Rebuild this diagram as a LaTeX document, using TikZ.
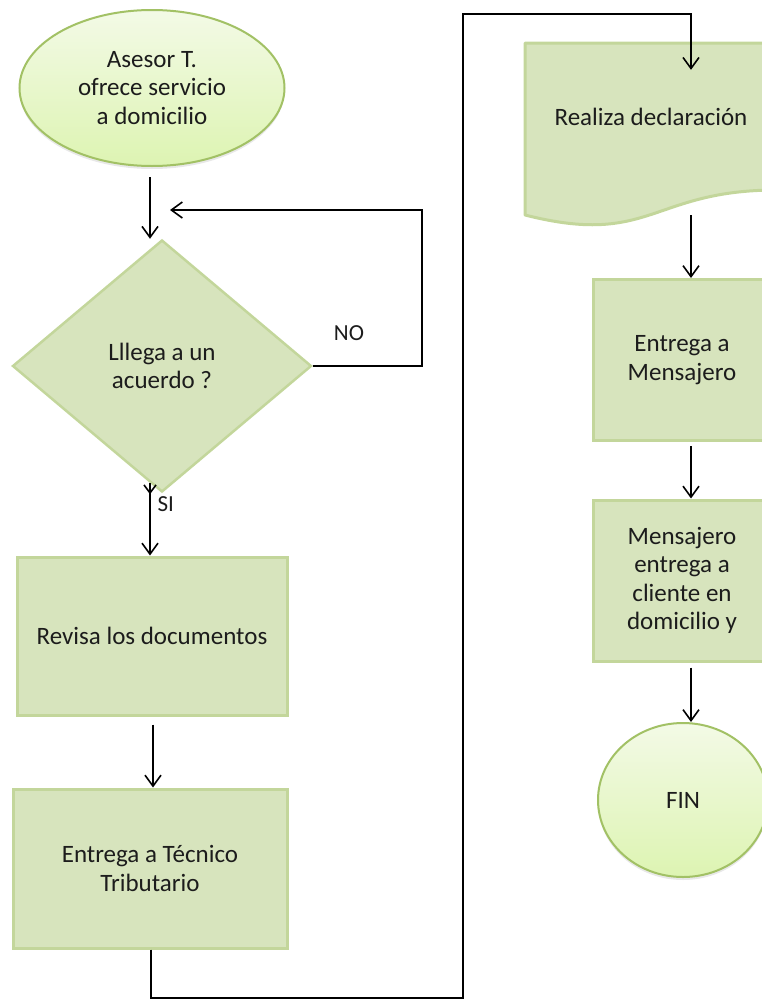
\documentclass[tikz,border=0pt]{standalone}
\usepackage{fontspec}
\setmainfont{Carlito}
\usetikzlibrary{arrows.meta,shapes.geometric,calc,shadows}
\definecolor{boxfill}{HTML}{D7E4BD}
\definecolor{boxline}{HTML}{C3D69B}
\definecolor{ovtop}{HTML}{F3FAE6}
\definecolor{ovbot}{HTML}{DDF4B2}
\definecolor{ovline}{HTML}{A2C165}
\definecolor{ink}{HTML}{1C1C1C}
\tikzset{
  txt/.style={text=ink, font=\fontsize{25}{28.5}\selectfont, align=center},
  box/.style={txt, rectangle, fill=boxfill, draw=boxline, line width=3pt, inner sep=0pt},
  oval/.style={txt, ellipse, top color=ovtop, bottom color=ovbot, draw=ovline, line width=2pt, inner sep=0pt,
    drop shadow={opacity=0.18, shadow xshift=0pt, shadow yshift=-3pt}},
  decision/.style={txt, diamond, fill=boxfill, draw=boxline, line width=2.5pt, inner sep=0pt, aspect=1.19},
  conn/.style={draw=black, line width=1.6pt},
  arr/.style={conn, -{Straight Barb[length=11pt,width=16pt,line width=1.6pt]}},
  smallarr/.style={conn, -{Straight Barb[length=8pt,width=12pt,line width=1.6pt]}},
  lbl/.style={text=ink, font=\fontsize{23}{26}\selectfont}
}
\begin{document}
\begin{tikzpicture}[x=1pt,y=-1pt]
\useasboundingbox (0,0) rectangle (762,1001);
\clip (0,0) rectangle (762,1001);

% column guides
\coordinate (cA) at (150,0);
\coordinate (cB) at (153,0);
\coordinate (cC) at (151,0);
\coordinate (cL) at (422,0);
\coordinate (xl) at (463,0);
\coordinate (cx) at (691,0);
\coordinate (yb) at (0,998);
\coordinate (yt) at (0,14);
\coordinate (loopin) at (170,210);

% left column
\node[oval, minimum width=265pt, minimum height=156pt] (start) at (152,88) {Asesor T.\\ofrece servicio\\a domicilio};
\node[decision, minimum width=299pt, minimum height=252pt] (dec) at (162,366) {Lllega a un\\acuerdo ?};
\node[box, minimum width=270pt, minimum height=158pt] (rev) at (152,636) {Revisa los documentos};
\node[box, minimum width=274pt, minimum height=159pt] (tec) at (150,868.5) {Entrega a Técnico\\Tributario};

% right column
\fill[boxfill] (525,43) -- (777,43) -- (777,190) .. controls (651,190) and (651,247) .. (525,215) -- cycle;
\draw[boxline, line width=3pt, line join=round] (525,43) -- (777,43) -- (777,190) .. controls (651,190) and (651,247) .. (525,215) -- cycle;
\node[minimum width=252pt, minimum height=184pt, inner sep=0pt] (doc) at (651,135) {};
\node[txt] (doctxt) at (651,117) {Realiza declaración};
\node[box, minimum width=178pt, minimum height=161pt] (men) at (682,360) {Entrega a\\Mensajero};
\node[box, minimum width=178pt, minimum height=161pt] (ent) at (682,580.5) {Mensajero\\entrega a\\cliente en\\domicilio y};
\node[oval, minimum width=170pt, minimum height=154pt] (fin) at (683,800) {FIN};

% labels
\node[lbl] (no) at (349,333) {NO};
\node[lbl, anchor=west] (si) at (154,504) {SI};

% connectors
\draw[arr] ([yshift=-10pt]start.south -| cA) -- (dec.north -| cA);
\draw[arr] (dec.east) -- (dec.east -| cL) -- (cL |- loopin) -- (loopin);
\draw[smallarr] ([yshift=10pt]dec.south -| cA) -- ([yshift=-1pt]dec.south -| cA);
\draw[arr] ([yshift=10pt]dec.south -| cA) -- (rev.north -| cA);
\draw[arr] ([yshift=-8pt]rev.south -| cB) -- (tec.north -| cB);
\draw[arr] (tec.south -| cC) -- (cC |- yb) -- (xl |- yb) -- (xl |- yt) -- (cx |- yt) -- ([yshift=-27pt]doc.north -| cx);
\draw[arr] ([yshift=12pt]doc.south -| cx) -- (men.north -| cx);
\draw[arr] ([yshift=-4pt]men.south -| cx) -- (ent.north -| cx);
\draw[arr] ([yshift=-5pt]ent.south -| cx) -- (fin.north -| cx);
\end{tikzpicture}
\end{document}
